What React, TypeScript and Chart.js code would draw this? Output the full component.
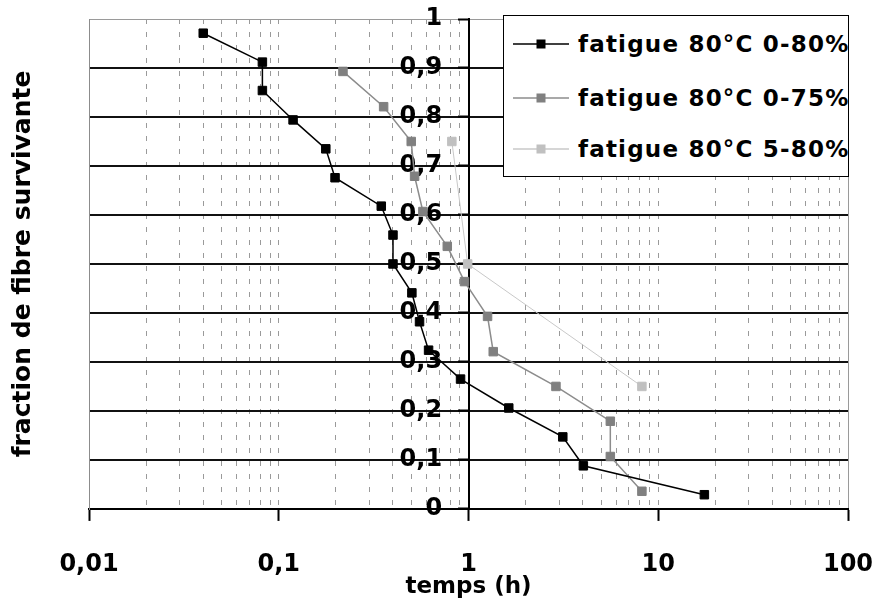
import React, { useEffect, useRef } from 'react';
import { Chart, registerables } from 'chart.js';

Chart.register(...registerables);

// ---- data ----
const seriesNames = ['fatigue 80°C 0-80%', 'fatigue 80°C 0-75%', 'fatigue 80°C 5-80%'];
const seriesColors = ['#000000', '#808080', '#c0c0c0'];
const seriesLineColors = ['#000000', '#8c8c8c', '#c8c8c8'];

const s1Time = [0.040, 0.082, 0.082, 0.119, 0.177, 0.198, 0.347, 0.40, 0.40, 0.503, 0.552, 0.616, 0.908, 1.63, 3.14, 4.03, 17.5];
const s1Frac = [0.971, 0.912, 0.854, 0.794, 0.735, 0.676, 0.618, 0.559, 0.500, 0.441, 0.382, 0.324, 0.265, 0.206, 0.147, 0.088, 0.029];

const s2Time = [0.218, 0.357, 0.499, 0.52, 0.575, 0.773, 0.953, 1.26, 1.35, 2.89, 5.59, 5.59, 8.2];
const s2Frac = [0.893, 0.821, 0.750, 0.679, 0.607, 0.536, 0.464, 0.393, 0.321, 0.250, 0.179, 0.107, 0.036];

const s3Time = [0.817, 0.99, 8.2];
const s3Frac = [0.750, 0.500, 0.250];

const xDecades = [0.01, 0.1, 1, 10, 100];
const xDecadeLabels = ['0,01', '0,1', '1', '10', '100'];
const xMinorSteps = [2, 3, 4, 5, 6, 7, 8, 9];
const yTicks = [0, 0.1, 0.2, 0.3, 0.4, 0.5, 0.6, 0.7, 0.8, 0.9, 1];
const yTickLabels = ['0', '0,1', '0,2', '0,3', '0,4', '0,5', '0,6', '0,7', '0,8', '0,9', '1'];
const xTitle = 'temps (h)';
const yTitle = 'fraction de fibre survivante';

const xTickValues: number[] = [];
xDecades.forEach((d, i) => {
  xTickValues.push(d);
  if (i < xDecades.length - 1) xMinorSteps.forEach((m) => xTickValues.push(parseFloat((d * m).toPrecision(6))));
});

const near = (a: number, b: number) => Math.abs(a - b) <= Math.abs(b) * 1e-6 + 1e-12;
const decadeIndex = (v: number) => xDecades.findIndex((d) => near(v, d));

const FONT = "'DejaVu Sans', sans-serif";

export default function App() {
  const ref = useRef<HTMLCanvasElement | null>(null);

  useEffect(() => {
    if (!ref.current) return;
    Chart.defaults.font.family = FONT;
    const times = [s1Time, s2Time, s3Time];
    const fracs = [s1Frac, s2Frac, s3Frac];
    const chart = new Chart(ref.current, {
      type: 'scatter',
      data: {
        datasets: seriesNames.map((name, k) => ({
          label: name,
          data: times[k].map((t, i) => ({ x: t, y: fracs[k][i] })),
          showLine: true,
          borderColor: seriesLineColors[k],
          backgroundColor: seriesColors[k],
          pointBackgroundColor: seriesColors[k],
          pointBorderColor: seriesColors[k],
          borderWidth: k === 2 ? 1 : 1.5,
          pointStyle: 'rect',
          pointRadius: 6,
          pointBorderWidth: 1,
          xAxisID: 'x',
          yAxisID: 'y',
        })),
      },
      options: {
        responsive: false,
        animation: false,
        devicePixelRatio: 1,
        layout: { padding: { left: 8, right: 27, top: 19, bottom: 0 } },
        plugins: { legend: { display: false }, tooltip: { enabled: false } },
        scales: {
          x: {
            type: 'logarithmic',
            position: 'bottom',
            min: 0.01,
            max: 100,
            afterBuildTicks: (scale: any) => {
              scale.ticks = xTickValues.map((v) => ({ value: v, major: decadeIndex(v) >= 0 }));
            },
            ticks: {
              autoSkip: false,
              maxRotation: 0,
              padding: 0,
              color: '#000',
              font: { size: 24, weight: 'bold', lineHeight: 3.62 },
              callback: (value: any) => {
                const i = decadeIndex(Number(value));
                return i >= 0 ? xDecadeLabels[i] : '';
              },
            },
            grid: {
              color: (ctx: any) => {
                const v = ctx.tick ? ctx.tick.value : NaN;
                if (near(v, 0.01) || near(v, 1)) return 'rgba(0,0,0,0)';
                return '#9a9a9a';
              },
              lineWidth: 1,
              drawTicks: true,
              tickLength: 12,
              tickWidth: 2,
              tickColor: (ctx: any) => (ctx.tick && decadeIndex(ctx.tick.value) >= 0 ? '#000' : 'rgba(0,0,0,0)'),
            },
            border: {
              display: true,
              color: '#000',
              width: 2,
              dash: (ctx: any) => (ctx.tick && near(ctx.tick.value, 100) ? [] : [5, 8]),
            },
            title: {
              display: true,
              text: xTitle,
              color: '#000',
              font: { size: 23, weight: 'bold' },
              padding: { top: -34.6, bottom: -1.8 },
            },
          },
          y: {
            type: 'linear',
            position: 'left',
            min: 0,
            max: 1,
            afterBuildTicks: (scale: any) => {
              scale.ticks = yTicks.map((v) => ({ value: v }));
            },
            ticks: { display: false },
            grid: {
              drawTicks: false,
              color: (ctx: any) => (ctx.tick && near(ctx.tick.value, 1) ? '#9a9a9a' : '#111'),
              lineWidth: (ctx: any) => (ctx.tick && near(ctx.tick.value, 1) ? 1 : 2),
            },
            border: { display: true, color: '#8c8c8c', width: 1 },
            title: {
              display: true,
              text: yTitle,
              color: '#000',
              font: { size: 25, weight: 'bold' },
              padding: { top: 0, bottom: 51 },
            },
          },
          y1: {
            type: 'linear',
            axis: 'y',
            position: { x: 1 },
            min: 0,
            max: 1,
            afterBuildTicks: (scale: any) => {
              scale.ticks = yTicks.map((v) => ({ value: v }));
            },
            ticks: {
              color: '#000',
              font: { size: 24, weight: 'bold' },
              callback: (_v: any, i: number) => yTickLabels[i] + '\u2003\u200A',
            },
            grid: {
              drawOnChartArea: false,
              drawTicks: true,
              tickLength: 10,
              tickColor: '#000',
              tickWidth: 2,
            },
            border: { display: true, color: '#000', width: 2 },
          },
        },
      } as any,
    });
    return () => chart.destroy();
  }, []);

  const rowCenters = [28, 82, 133];

  return (
    <div style={{ position: 'fixed', left: 0, top: 0, width: 875, height: 599, background: '#fff' }}>
      <canvas ref={ref} width={875} height={599} style={{ display: 'block' }} />
      <div
        style={{
          position: 'absolute',
          left: 503,
          top: 15,
          width: 346,
          height: 162,
          boxSizing: 'border-box',
          border: '1.5px solid #000',
          background: '#fff',
          overflow: 'hidden',
        }}
      >
        {seriesNames.map((name, k) => (
          <div key={name} style={{ position: 'absolute', left: 0, top: rowCenters[k] - 16, height: 32, width: 400 }}>
            <svg width={58} height={32} style={{ position: 'absolute', left: 9, top: 0 }}>
              <line x1={0} y1={16} x2={56} y2={16} stroke={seriesLineColors[k]} strokeWidth={1.5} />
              <rect x={23.5} y={11.5} width={9} height={9} fill={seriesColors[k]} />
            </svg>
            <span
              style={{
                position: 'absolute',
                left: 74,
                top: 0,
                lineHeight: '32px',
                fontFamily: FONT,
                fontWeight: 'bold',
                fontSize: 23,
                letterSpacing: '1.2px',
                whiteSpace: 'nowrap',
                color: '#000',
              }}
            >
              {name}
            </span>
          </div>
        ))}
      </div>
    </div>
  );
}
